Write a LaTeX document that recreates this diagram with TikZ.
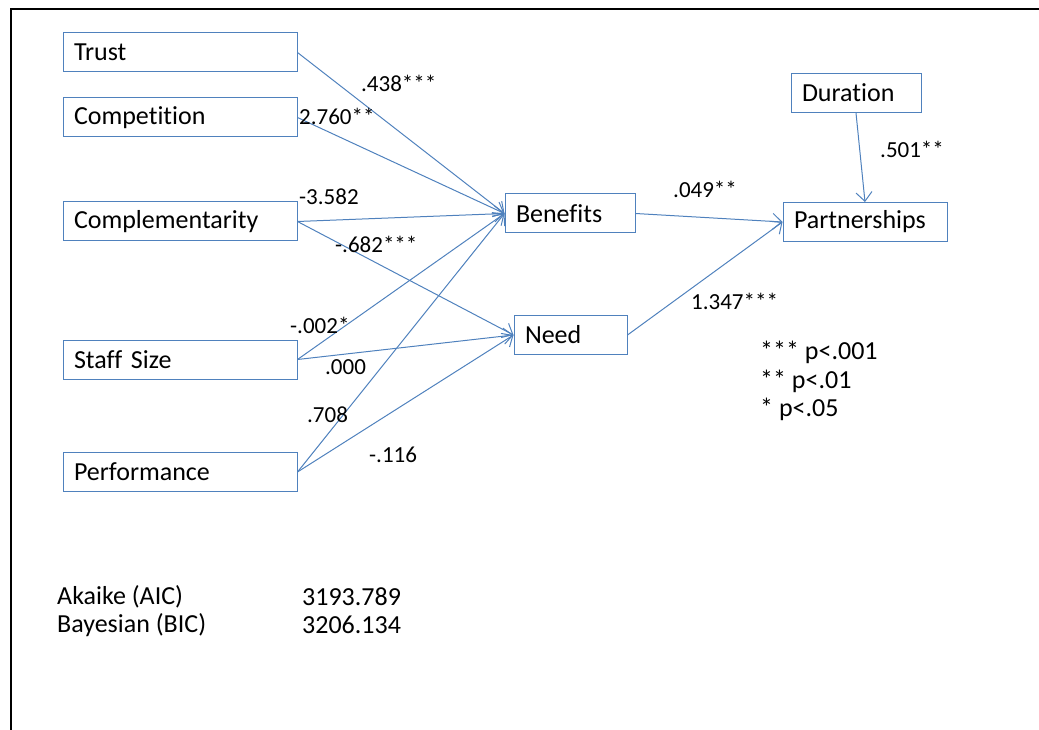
\documentclass[tikz,border=0pt]{standalone}
\usepackage{fontspec}
\setmainfont{Carlito}[Ligatures={NoCommon}]
\usetikzlibrary{arrows.meta}
\definecolor{pathblue}{HTML}{4F81BD}

\begin{document}
\begin{tikzpicture}[x=1pt,y=-1pt,
  var/.style={draw=pathblue, line width=1pt, rectangle, minimum height=39pt,
    inner xsep=11pt, inner ysep=0pt, align=left, text width=#1,
    font=\fontsize{26}{30}\selectfont},
  var/.default=212pt,
  path/.style={draw=pathblue, line width=1pt,
    -{Straight Barb[length=9pt,width=16pt,line width=1pt]}},
  coef/.style={inner sep=0pt, anchor=west, font=\fontsize{23}{27}\selectfont},
  note/.style={inner sep=0pt, anchor=west, font=\fontsize{26}{30}\selectfont}]

  \useasboundingbox (0,0) rectangle (1039,730);

  % frame
  \draw[line width=2.4pt, line cap=rect] (1040,9) -- (11,9) -- (11,731);

  % exogenous variables
  \node[var] (trust) at (180,52.5) {Trust};
  \node[var] (comp)  at (180,117.5) {Competition};
  \node[var] (compl) at (180,221.5) {Complementarity};
  \node[var] (staff) at (180,359.5) {Staff Size};
  \node[var] (perf)  at (180,472) {Performance};

  % mediators and outcome
  \node[var=108pt] (ben)  at (570,213.5) {Benefits};
  \node[var=91pt]  (need) at (570.5,335) {Need};
  \node[var=108pt] (dur)  at (856,93) {Duration};
  \node[var=142pt] (part) at (865,222) {Partnerships};

  % paths
  \draw[path] (trust.east) -- (ben.west);
  \draw[path] (comp.east)  -- (ben.west);
  \draw[path] (compl.east) -- (ben.west);
  \draw[path] (compl.east) -- (need.west);
  \draw[path] (staff.east) -- (ben.west);
  \draw[path] (staff.east) -- (need.west);
  \draw[path] (perf.east)  -- (ben.west);
  \draw[path] (perf.east)  -- (need.west);
  \draw[path] (ben.east)   -- (part.west);
  \draw[path] (need.east)  -- (part.west);
  \draw[path] (dur.south)  -- (part.north);

  % coefficients
  \node[coef] (c1)  at (361,83)  {.438***};
  \node[coef] (c2)  at (299,116) {2.760**};
  \node[coef] (c3)  at (299,197) {-3.582};
  \node[coef] (c4)  at (335,244) {-.682***};
  \node[coef] (c5)  at (290,325) {-.002*};
  \node[coef] (c6)  at (325,367) {.000};
  \node[coef] (c7)  at (307,415) {.708};
  \node[coef] (c8)  at (369,455) {-.116};
  \node[coef] (c9)  at (673,189) {.049**};
  \node[coef] (c10) at (691,301) {1.347***};
  \node[coef] (c11) at (880,149) {.501**};

  % significance legend
  \node[note] (s1) at (760,352) {*** p<.001};
  \node[note] (s2) at (760,381) {** p<.01};
  \node[note] (s3) at (760,409) {* p<.05};

  % fit indices
  \node[note] (aic)  at (57,597)  {Akaike (AIC)};
  \node[note] (aicv) at (302,597) {3193.789};
  \node[note] (bic)  at (57,625)  {Bayesian (BIC)};
  \node[note] (bicv) at (302,625) {3206.134};
\end{tikzpicture}
\end{document}
